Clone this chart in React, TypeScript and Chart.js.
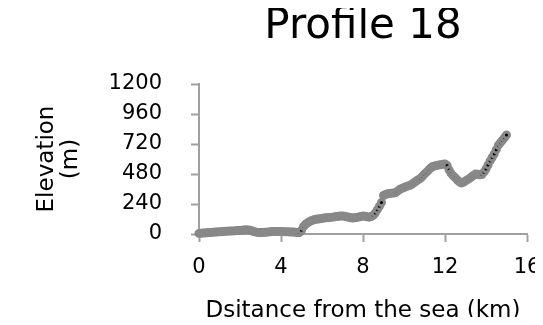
import React, { useEffect, useRef } from "react";
import { Chart, registerables } from "chart.js";

Chart.register(...registerables);

// Profile sampled every 0.1 km along the line inland from the coast
const distanceKm = [
  0.0, 0.1, 0.2, 0.3, 0.4, 0.5, 0.6, 0.7, 0.8, 0.9,
  1.0, 1.1, 1.2, 1.3, 1.4, 1.5, 1.6, 1.7, 1.8, 1.9,
  2.0, 2.1, 2.2, 2.3, 2.4, 2.5, 2.6, 2.7, 2.8, 2.9,
  3.0, 3.1, 3.2, 3.3, 3.4, 3.5, 3.6, 3.7, 3.8, 3.9,
  4.0, 4.1, 4.2, 4.3, 4.4, 4.5, 4.6, 4.7, 4.8, 4.9,
  5.0, 5.1, 5.2, 5.3, 5.4, 5.5, 5.6, 5.7, 5.8, 5.9,
  6.0, 6.1, 6.2, 6.3, 6.4, 6.5, 6.6, 6.7, 6.8, 6.9,
  7.0, 7.1, 7.2, 7.3, 7.4, 7.5, 7.6, 7.7, 7.8, 7.9,
  8.0, 8.1, 8.2, 8.3, 8.4, 8.5, 8.6, 8.7, 8.8, 8.9,
  9.0, 9.1, 9.2, 9.3, 9.4, 9.5, 9.6, 9.7, 9.8, 9.9,
  10.0, 10.1, 10.2, 10.3, 10.4, 10.5, 10.6, 10.7, 10.8, 10.9,
  11.0, 11.1, 11.2, 11.3, 11.4, 11.5, 11.6, 11.7, 11.8, 11.9,
  12.0, 12.1, 12.2, 12.3, 12.4, 12.5, 12.6, 12.7, 12.8, 12.9,
  13.0, 13.1, 13.2, 13.3, 13.4, 13.5, 13.6, 13.7, 13.8, 13.9,
  14.0, 14.1, 14.2, 14.3, 14.4, 14.5, 14.6, 14.7, 14.8, 14.9,
  15.0,
];

const elevationM = [
  5, 6, 8, 9, 11, 12, 13, 15, 16, 17,
  18, 19, 21, 22, 23, 24, 25, 25, 27, 28,
  28, 30, 32, 34, 33, 30, 24, 18, 15, 13,
  12, 13, 14, 15, 17, 19, 20, 21, 20, 21,
  20, 19, 18, 18, 17, 17, 16, 14, 12, 12,
  30, 60, 78, 90, 100, 108, 114, 118, 120, 122,
  125, 128, 130, 131, 133, 135, 137, 140, 142, 144,
  145, 142, 138, 134, 130, 128, 130, 133, 136, 141,
  145, 142, 138, 135, 140, 150, 168, 195, 222, 252,
  308, 316, 322, 325, 327, 328, 332, 345, 358, 365,
  372, 379, 385, 390, 400, 412, 424, 435, 445, 462,
  480, 495, 512, 528, 540, 545, 549, 552, 555, 558,
  561, 548, 512, 485, 465, 450, 432, 418, 408, 414,
  425, 435, 445, 458, 470, 480, 478, 474, 476, 495,
  520, 552, 585, 612, 640, 675, 710, 730, 750, 770,
  792,
];

const xTickValues = [0, 4, 8, 12, 16];
const yTickLabels = [0, 240, 480, 720, 960, 1200];

const chartTitle = "Profile 18";
const xTitle = "Dsitance from the sea (km)";
const yTitle = ["Elevation", "(m)"];

const FONT = "'DejaVu Sans', sans-serif";
const AXIS_GREY = "#a0a0a0";

// Title centred over the plotting area rather than the whole canvas
const plotTitle = {
  id: "plotTitle",
  afterDraw(chart: Chart) {
    const { ctx, chartArea } = chart;
    ctx.save();
    ctx.font = `42px ${FONT}`;
    ctx.fillStyle = "#000";
    ctx.textAlign = "center";
    ctx.textBaseline = "alphabetic";
    ctx.fillText(chartTitle, (chartArea.left + chartArea.right) / 2, 38);
    ctx.restore();
  },
};

export default function App() {
  const canvasRef = useRef<HTMLCanvasElement | null>(null);

  useEffect(() => {
    const canvas = canvasRef.current;
    if (!canvas) return;
    const points = distanceKm.map((x, i) => ({ x, y: elevationM[i] }));

    const chart = new Chart(canvas, {
      type: "scatter",
      data: {
        datasets: [
          {
            data: points,
            showLine: false,
            pointRadius: 3,
            pointBorderWidth: 3,
            pointBackgroundColor: "#000",
            pointBorderColor: "#888888",
            pointHoverRadius: 3,
            clip: false,
          },
        ],
      },
      options: {
        responsive: false,
        devicePixelRatio: 1,
        animation: false,
        events: [],
        layout: { padding: { top: 84, right: 16, bottom: 0, left: 0 } },
        plugins: {
          legend: { display: false },
          tooltip: { enabled: false },
          title: { display: false },
        },
        scales: {
          x: {
            type: "linear",
            min: 0,
            max: 16,
            afterBuildTicks: (scale: any) => {
              scale.ticks = xTickValues.map((v) => ({ value: v }));
            },
            afterFit: (scale: any) => {
              scale.height = 91;
              scale.paddingLeft = 0;
              scale.paddingRight = 0;
            },
            border: { display: true, color: AXIS_GREY, width: 2 },
            grid: {
              drawOnChartArea: false,
              drawTicks: true,
              tickLength: 8,
              tickWidth: 2,
              tickColor: AXIS_GREY,
            },
            ticks: {
              color: "#000",
              font: { family: FONT, size: 21 },
              padding: 13,
              maxRotation: 0,
            },
            title: {
              display: true,
              text: xTitle,
              color: "#000",
              font: { family: FONT, size: 23, lineHeight: 1.0 },
              padding: { top: 0, bottom: 2 },
            },
          },
          y: {
            type: "linear",
            min: 0,
            max: 1200,
            ticks: {
              stepSize: 120,
              color: "#000",
              font: { family: FONT, size: 21 },
              padding: 29,
              callback: (v: any) => (yTickLabels.includes(Number(v)) ? String(v) : ""),
            },
            afterFit: (scale: any) => {
              scale.width = 199;
              scale.paddingTop = 0;
              scale.paddingBottom = 0;
            },
            border: { display: true, color: AXIS_GREY, width: 2 },
            grid: {
              drawOnChartArea: false,
              drawTicks: true,
              tickLength: 8,
              tickWidth: 2,
              tickColor: AXIS_GREY,
            },
            title: {
              display: true,
              text: yTitle,
              color: "#000",
              font: { family: FONT, size: 23, lineHeight: 1.05 },
              padding: { top: 35, bottom: 0 },
            },
          },
        },
      },
      plugins: [plotTitle],
    });

    return () => chart.destroy();
  }, []);

  return (
    <div style={{ margin: -8, width: 543, height: 325, background: "#fff" }}>
      <canvas ref={canvasRef} width={543} height={325} style={{ display: "block" }} />
    </div>
  );
}
